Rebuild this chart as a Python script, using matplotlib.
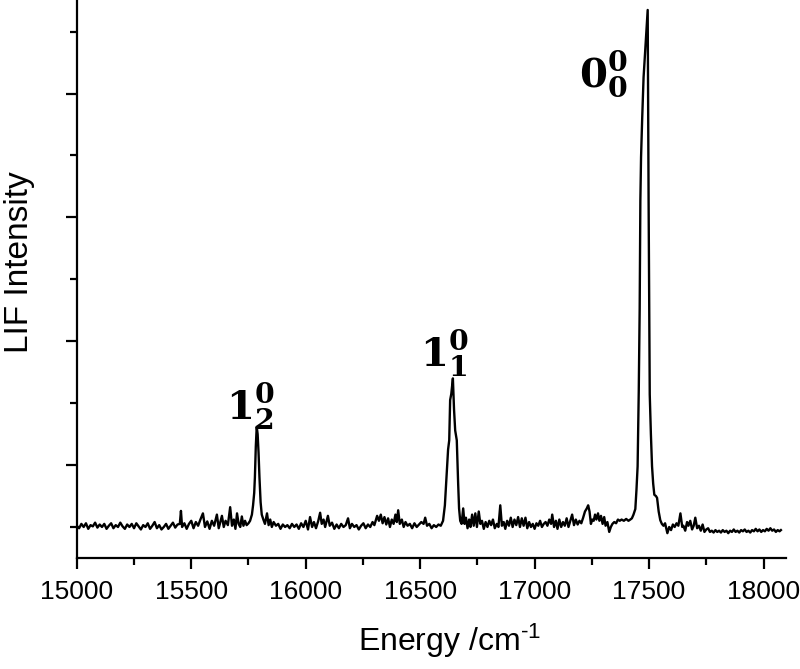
import matplotlib
matplotlib.use("Agg")
import matplotlib.pyplot as plt
from matplotlib.ticker import MultipleLocator

plt.rcParams['font.family'] = ['Liberation Sans', 'DejaVu Sans']
plt.rcParams['mathtext.fontset'] = 'custom'
plt.rcParams['mathtext.rm'] = 'Liberation Sans'
plt.rcParams['mathtext.it'] = 'Liberation Sans:italic'
plt.rcParams['mathtext.bf'] = 'DejaVu Serif:bold'

# spectrum (energy in cm-1, intensity in arb. units)
energy = [
    15000, 15010, 15020, 15030, 15040, 15050, 15060, 15070, 15080, 15090,
    15100, 15110, 15120, 15130, 15140, 15150, 15160, 15170, 15180, 15190,
    15200, 15210, 15220, 15230, 15240, 15250, 15260, 15270, 15280, 15290,
    15300, 15310, 15320, 15330, 15340, 15350, 15360, 15370, 15380, 15390,
    15400, 15410, 15420, 15430, 15440, 15450, 15455, 15460, 15470, 15480,
    15490, 15500, 15510, 15520, 15530, 15540, 15551, 15560, 15570, 15580,
    15590, 15600, 15612, 15620, 15634, 15642, 15650, 15660, 15670, 15678,
    15686, 15693, 15700, 15707, 15714, 15721, 15728, 15735, 15742, 15750,
    15757, 15765, 15770, 15775, 15778, 15782, 15786, 15790, 15794, 15798,
    15803, 15808, 15815, 15822, 15831, 15838, 15845, 15852, 15860, 15870,
    15880, 15890, 15900, 15910, 15920, 15930, 15940, 15950, 15960, 15970,
    15980, 15990, 16000, 16010, 16019, 16028, 16036, 16045, 16055, 16063,
    16070, 16078, 16085, 16097, 16105, 16115, 16125, 16135, 16145, 16155,
    16165, 16175, 16185, 16193, 16202, 16212, 16222, 16232, 16242, 16252,
    16262, 16272, 16282, 16292, 16300, 16312, 16320, 16328, 16336, 16344,
    16352, 16360, 16368, 16376, 16384, 16392, 16398, 16404, 16411, 16420,
    16428, 16436, 16445, 16455, 16465, 16475, 16485, 16495, 16505, 16515,
    16522, 16530, 16540, 16550, 16560, 16570, 16580, 16590, 16600, 16608,
    16616, 16622, 16627, 16631, 16636, 16643, 16648, 16653, 16660, 16666,
    16670, 16675, 16681, 16688, 16694, 16700, 16707, 16714, 16720, 16727,
    16734, 16741, 16748, 16756, 16763, 16770, 16778, 16786, 16794, 16802,
    16810, 16818, 16826, 16835, 16842, 16850, 16857, 16865, 16872, 16880,
    16888, 16896, 16904, 16912, 16920, 16928, 16936, 16944, 16952, 16960,
    16968, 16976, 16984, 16992, 17000, 17008, 17016, 17024, 17032, 17040,
    17048, 17056, 17064, 17072, 17077, 17085, 17093, 17100, 17108, 17116,
    17124, 17132, 17140, 17148, 17156, 17164, 17172, 17180, 17188, 17196,
    17204, 17212, 17220, 17228, 17234, 17240, 17246, 17252, 17258, 17264,
    17270, 17277, 17283, 17290, 17297, 17304, 17310, 17318, 17326, 17333,
    17340, 17348, 17356, 17364, 17372, 17380, 17390, 17400, 17410, 17418,
    17425, 17432, 17440, 17445, 17450, 17455, 17459, 17462, 17465, 17470,
    17476, 17485, 17494, 17498, 17503, 17508, 17513, 17518, 17523, 17530,
    17535, 17542, 17549, 17556, 17563, 17570, 17580, 17588, 17596, 17604,
    17612, 17620, 17628, 17637, 17645, 17650, 17658, 17666, 17672, 17680,
    17688, 17695, 17702, 17710, 17718, 17726, 17734, 17742, 17750, 17758,
    17766, 17774, 17782, 17790, 17798, 17806, 17814, 17822, 17830, 17838,
    17846, 17854, 17862, 17870, 17878, 17886, 17894, 17902, 17910, 17918,
    17926, 17934, 17942, 17950, 17958, 17966, 17974, 17982, 17990, 17998,
    18006, 18014, 18022, 18030, 18038, 18046, 18054, 18062, 18070, 18076,
]
intensity = [
    0.02, -0.02, 0.05, 0.00, 0.06, -0.03, 0.03, 0.01, 0.07, -0.01,
    0.04, 0.00, 0.05, -0.03, 0.02, 0.06, -0.02, 0.03, 0.00, 0.07,
    0.01, -0.03, 0.04, 0.00, 0.05, -0.02, 0.06, 0.01, -0.04, 0.03,
    0.00, 0.06, -0.03, 0.02, 0.08, -0.02, 0.03, -0.04, 0.00, 0.05,
    -0.03, 0.02, 0.07, -0.01, 0.04, 0.05, 0.26, 0.00, 0.06, -0.03,
    0.05, 0.10, -0.02, 0.08, 0.02, 0.12, 0.22, 0.00, 0.09, -0.03,
    0.10, 0.02, 0.20, -0.02, 0.18, 0.00, 0.10, 0.03, 0.32, 0.02,
    0.12, -0.03, 0.22, 0.05, 0.00, 0.17, 0.02, 0.10, 0.03, 0.06,
    0.10, 0.20, 0.35, 0.55, 0.80, 1.30, 1.62, 1.50, 1.20, 0.80,
    0.40, 0.20, 0.12, 0.05, 0.22, 0.03, 0.12, 0.00, 0.08, 0.02,
    0.05, -0.03, 0.04, 0.00, 0.03, -0.02, 0.05, 0.00, 0.04, -0.03,
    0.06, 0.00, 0.10, -0.04, 0.16, 0.00, 0.08, -0.02, 0.10, 0.23,
    0.05, 0.12, 0.00, 0.18, 0.02, 0.07, -0.03, 0.04, -0.02, 0.05,
    0.00, 0.03, 0.14, -0.02, 0.05, 0.00, 0.03, -0.04, 0.02, 0.06,
    -0.02, 0.04, 0.00, 0.08, 0.03, 0.18, 0.10, 0.20, 0.06, 0.16,
    0.04, 0.14, 0.00, 0.12, 0.05, 0.20, 0.08, 0.27, 0.05, 0.12,
    0.00, 0.08, 0.02, 0.05, -0.02, 0.06, 0.00, 0.04, 0.08, 0.05,
    0.15, 0.02, 0.05, -0.02, 0.03, 0.00, 0.04, 0.02, 0.10, 0.35,
    0.87, 1.25, 1.40, 2.05, 2.15, 2.40, 1.90, 1.56, 1.40, 0.70,
    0.30, 0.10, 0.05, 0.30, 0.05, 0.15, -0.02, 0.12, 0.00, 0.20,
    0.02, 0.22, 0.00, 0.25, 0.05, 0.10, -0.03, 0.08, 0.00, 0.10,
    0.03, 0.12, -0.02, 0.05, 0.00, 0.35, 0.02, 0.08, -0.03, 0.10,
    0.02, 0.15, 0.00, 0.12, 0.03, 0.16, 0.00, 0.14, 0.02, 0.15,
    -0.02, 0.08, 0.00, 0.05, -0.03, 0.06, 0.02, 0.10, 0.00, 0.05,
    0.08, 0.02, 0.12, 0.05, 0.20, 0.00, 0.10, -0.03, 0.12, 0.00,
    0.08, 0.02, 0.14, 0.00, 0.10, 0.20, 0.03, 0.12, 0.04, 0.10,
    0.06, 0.15, 0.25, 0.30, 0.35, 0.25, 0.05, 0.12, 0.10, 0.20,
    0.12, 0.22, 0.10, 0.18, 0.05, 0.16, 0.02, 0.08, -0.08, 0.00,
    0.05, 0.08, 0.06, 0.12, 0.10, 0.12, 0.10, 0.13, 0.10, 0.12,
    0.14, 0.20, 0.29, 0.60, 0.98, 2.20, 3.53, 5.27, 5.97, 6.60,
    7.26, 7.80, 8.35, 5.27, 2.14, 1.50, 0.98, 0.70, 0.52, 0.50,
    0.47, 0.25, 0.11, 0.05, 0.02, 0.06, -0.10, 0.00, -0.05, 0.04,
    0.00, 0.06, 0.02, 0.22, 0.00, 0.02, -0.06, 0.08, 0.02, 0.10,
    -0.04, 0.02, 0.15, -0.02, 0.02, -0.06, 0.04, -0.08, -0.04, -0.02,
    -0.08, -0.06, -0.09, -0.05, -0.08, -0.06, -0.09, -0.05, -0.08, -0.06,
    -0.10, -0.06, -0.08, -0.04, -0.08, -0.06, -0.09, -0.05, -0.07, -0.04,
    -0.08, -0.06, -0.09, -0.05, -0.07, -0.03, -0.07, -0.04, -0.08, -0.05,
    -0.07, -0.03, -0.06, -0.02, -0.06, -0.04, -0.08, -0.05, -0.07, -0.05,
]

# band labels and where they sit
band_labels = [r'$\mathbf{1_2^0}$', r'$\mathbf{1_1^0}$', r'$\mathbf{0_0^0}$']
band_x = [15760, 16605, 17300]
band_y = [1.95, 2.8, 7.3]

fig = plt.figure(figsize=(8, 6.69), dpi=100)
ax = fig.add_axes([0.096, 0.166, 0.887, 0.833])

ax.plot(energy, intensity, color='black', lw=1.7)

for lab, bx, by in zip(band_labels, band_x, band_y):
    ax.text(bx, by, lab, fontsize=29, ha='center', va='center')

ax.set_xlim(15000, 18100)
ax.set_ylim(-0.5, 8.5)
ax.xaxis.set_major_locator(MultipleLocator(500))
ax.xaxis.set_minor_locator(MultipleLocator(250))
ax.set_yticks([1, 3, 5, 7])
ax.set_yticks([0, 2, 4, 6, 8], minor=True)
ax.set_yticklabels([])

ax.spines['top'].set_visible(False)
ax.spines['right'].set_visible(False)
for s in ['left', 'bottom']:
    ax.spines[s].set_linewidth(1.6)

ax.tick_params(which='major', direction='out', length=8, width=1.6, labelsize=19, pad=8)
ax.tick_params(which='minor', direction='out', length=5, width=1.6)

ax.set_xlabel(r'Energy /cm$^{\text{-1}}$', fontsize=23)
ax.xaxis.set_label_coords(0.525, -0.115)
ax.set_ylabel('LIF Intensity', fontsize=24)
ax.yaxis.set_label_coords(-0.059, 0.53)

fig.savefig('out.png', dpi=100)
